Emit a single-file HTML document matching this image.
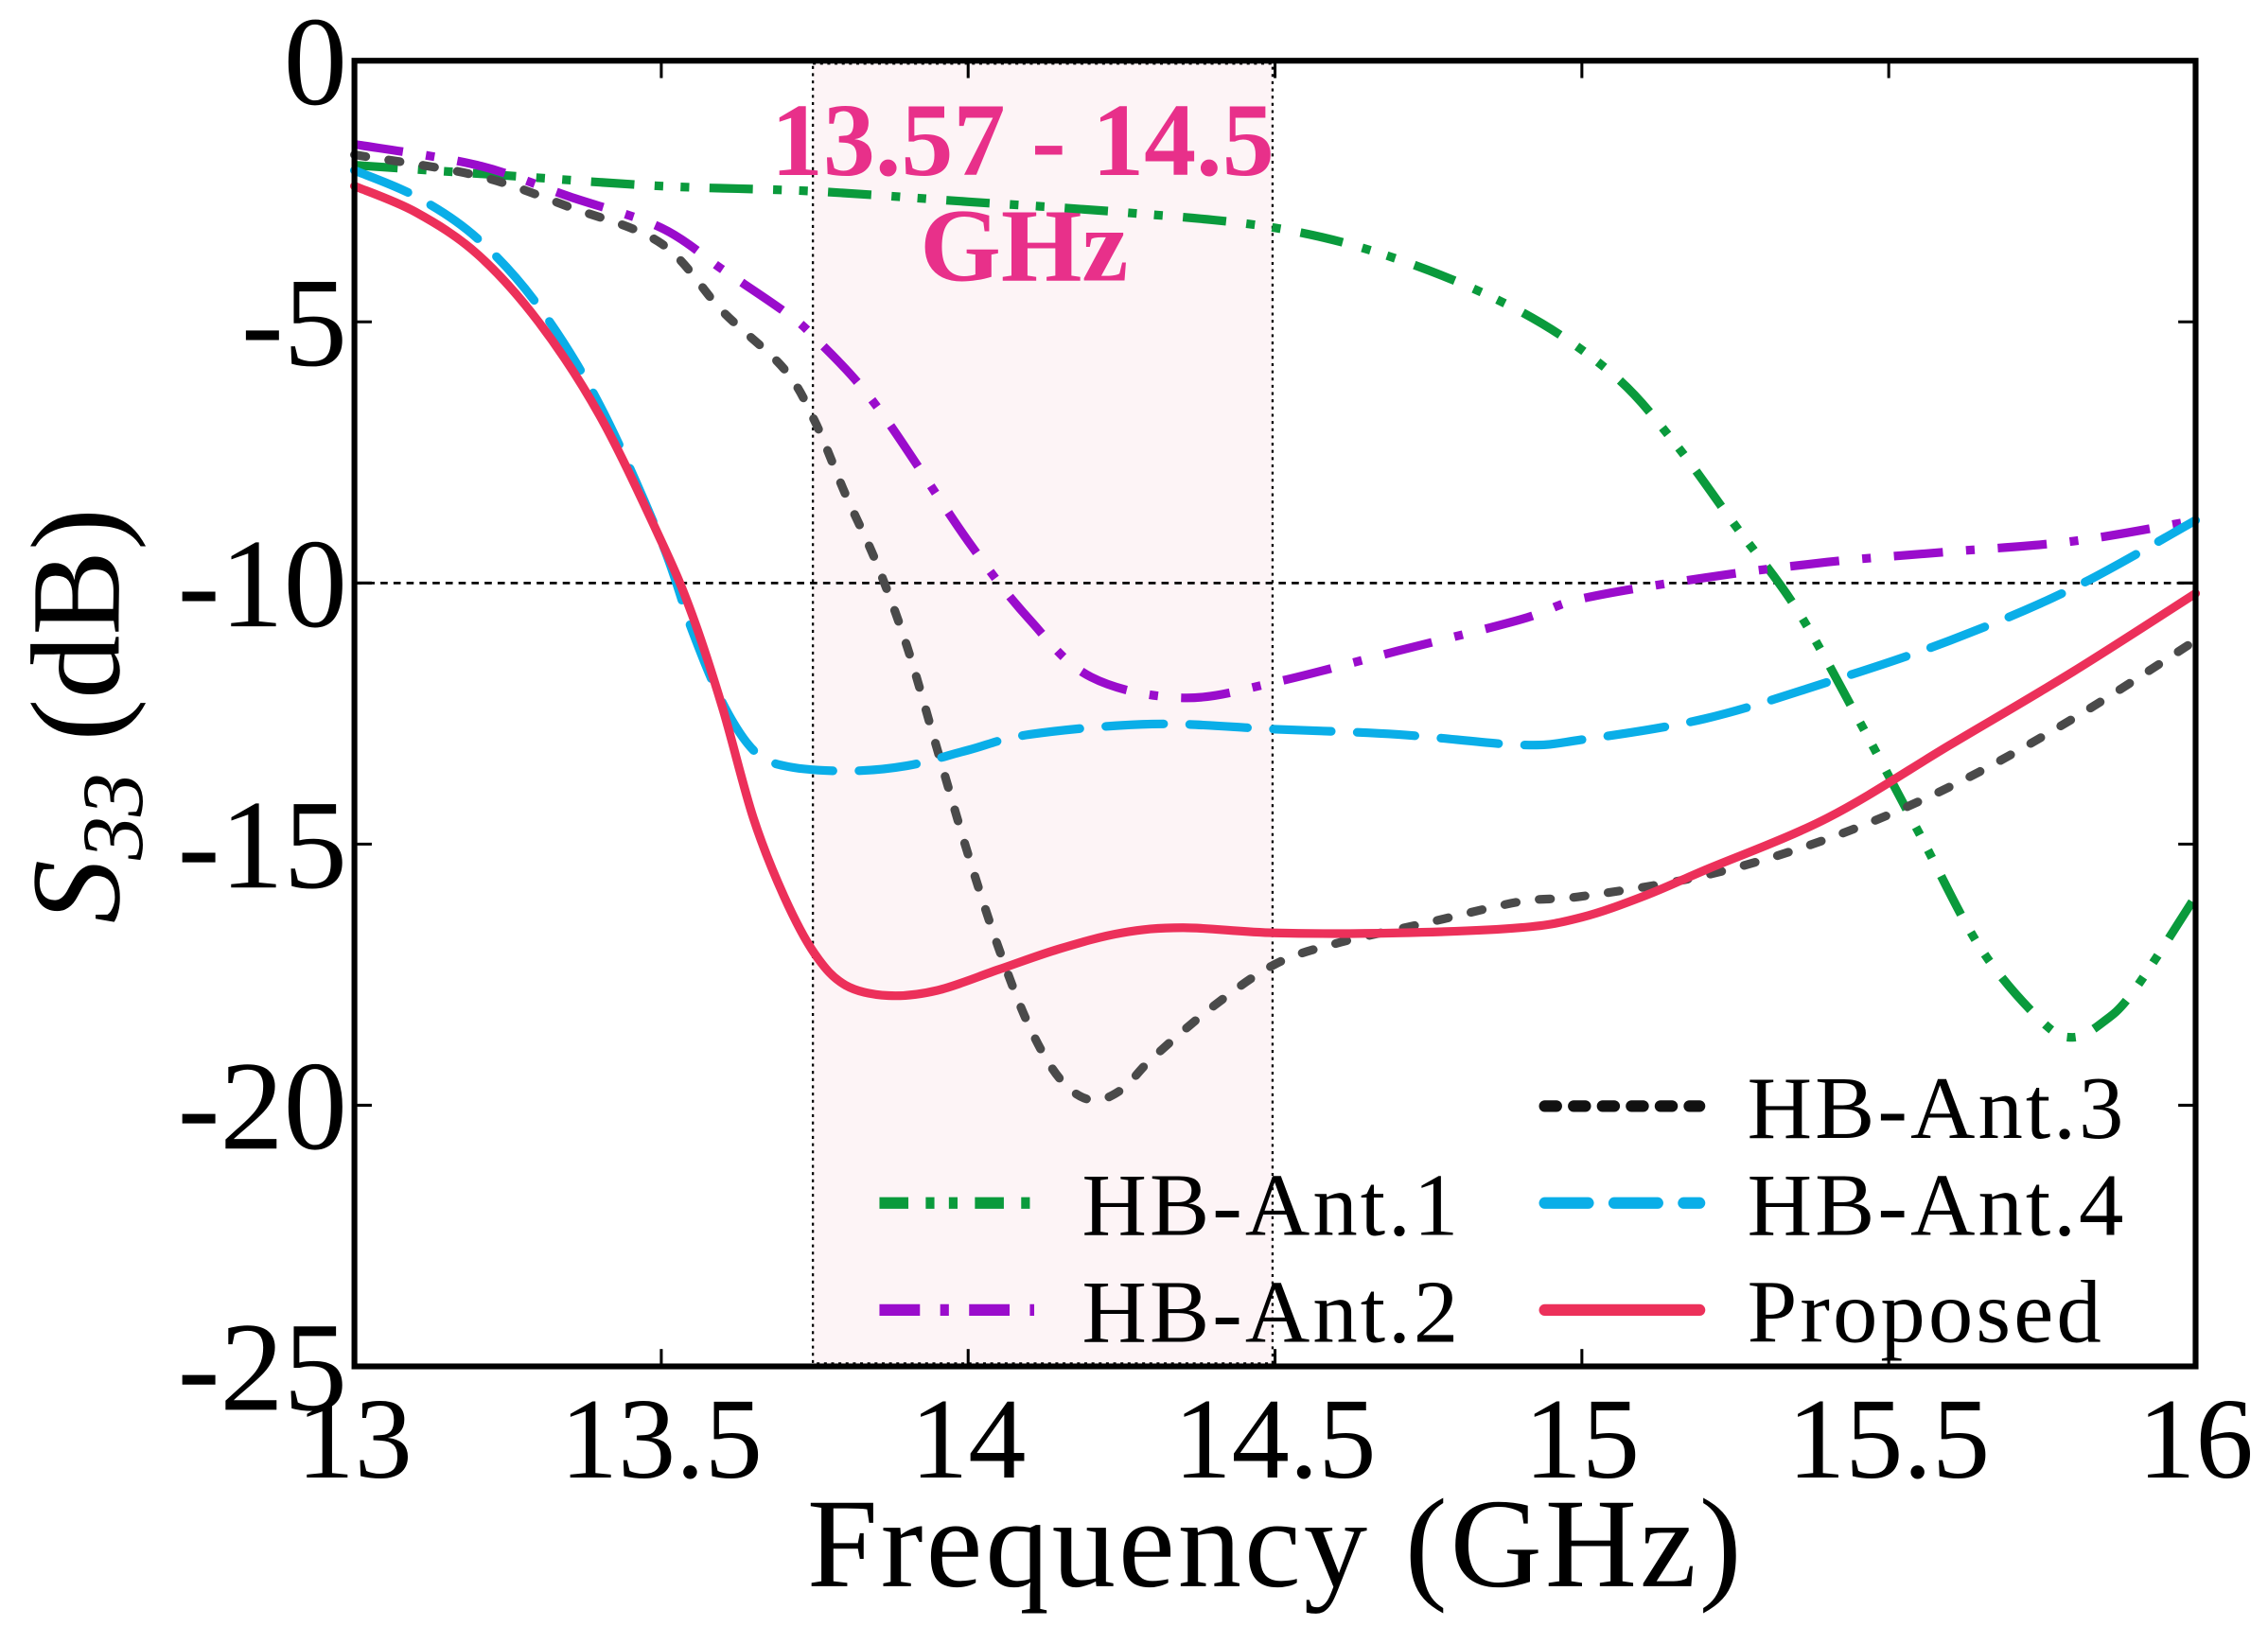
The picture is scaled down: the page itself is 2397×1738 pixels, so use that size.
<!DOCTYPE html>
<html><head><meta charset="utf-8"><style>
html,body{margin:0;padding:0;background:#fff;}
svg{display:block;}
text{font-family:"Liberation Serif",serif;}
</style></head><body>
<svg id="chart" width="2397" height="1738" viewBox="0 0 1568 1137" xmlns="http://www.w3.org/2000/svg">
<rect width="1568" height="1137" fill="#fff"/>
<g id="band"></g>
<g id="grid"></g>
<g id="series"></g>
<g id="axes"></g>
<g id="legend"></g>
</svg>
<script>
const xTicks=[13,13.5,14,14.5,15,15.5,16];
const xTickLabels=["13","13.5","14","14.5","15","15.5","16"];
const yTicks=[0,-5,-10,-15,-20,-25];
const yTickLabels=["0","-5","-10","-15","-20","-25"];
const bandRange=[13.747,14.496];
const ant1F=[13.0,13.25,13.5,13.75,14.0,14.25,14.5,14.7,14.9,15.05,15.15,15.25,15.35,15.45,15.55,15.65,15.75,15.8,15.85,15.9,16.0];
const ant1V=[-2.0,-2.2,-2.4,-2.5,-2.7,-2.9,-3.2,-3.8,-4.8,-6.0,-7.3,-8.9,-10.5,-12.6,-14.8,-17.0,-18.4,-18.7,-18.4,-17.8,-16.0];
const ant2F=[13.0,13.2,13.35,13.5,13.6,13.7,13.75,13.85,14.0,14.1,14.2,14.35,14.5,14.7,14.9,15.0,15.2,15.4,15.6,15.8,16.0];
const ant2V=[-1.6,-2.0,-2.6,-3.2,-4.0,-4.8,-5.3,-6.6,-9.2,-10.7,-11.8,-12.2,-11.9,-11.3,-10.7,-10.3,-9.9,-9.6,-9.4,-9.2,-8.8];
const ant3F=[13.0,13.2,13.35,13.5,13.6,13.7,13.75,13.8,13.85,13.9,13.95,14.0,14.05,14.1,14.15,14.2,14.25,14.3,14.4,14.5,14.6,14.75,14.9,15.0,15.2,15.4,15.6,15.8,16.0];
const ant3V=[-1.8,-2.2,-2.8,-3.5,-4.8,-5.9,-6.9,-8.3,-9.6,-11.2,-13.2,-15.2,-17.0,-18.5,-19.5,-19.9,-19.7,-19.1,-18.1,-17.3,-16.9,-16.5,-16.1,-16.0,-15.6,-14.9,-13.9,-12.6,-11.1];
const ant4F=[13.0,13.1,13.2,13.3,13.4,13.5,13.55,13.6,13.65,13.7,13.8,13.9,14.0,14.1,14.3,14.5,14.7,14.9,15.0,15.2,15.4,15.6,15.8,16.0];
const ant4V=[-2.1,-2.6,-3.4,-4.7,-6.6,-9.2,-10.9,-12.3,-13.2,-13.5,-13.6,-13.5,-13.2,-12.9,-12.7,-12.8,-12.9,-13.1,-13.0,-12.6,-11.9,-11.1,-10.1,-8.8];
const propF=[13.0,13.1,13.2,13.3,13.4,13.5,13.55,13.6,13.65,13.7,13.75,13.8,13.87,13.95,14.05,14.15,14.25,14.35,14.5,14.7,14.9,15.0,15.1,15.2,15.4,15.6,15.8,16.0];
const propV=[-2.4,-2.9,-3.7,-5.0,-6.8,-9.2,-10.6,-12.4,-14.5,-16.0,-17.1,-17.7,-17.9,-17.8,-17.4,-17.0,-16.7,-16.6,-16.7,-16.7,-16.6,-16.4,-16.0,-15.5,-14.5,-13.1,-11.7,-10.2];

const L=245,R=1518,T=42,B=945;
const X=f=>L+(f-13)/3*(R-L);
const Y=v=>T+(0-v)/25*(B-T);
const NS="http://www.w3.org/2000/svg";
function mk(tag,attrs,parent){const e=document.createElementNS(NS,tag);for(const k in attrs)e.setAttribute(k,attrs[k]);parent.appendChild(e);return e;}
function smooth(fs,vs){const p=fs.map((f,i)=>[X(f),Y(vs[i])]);let d=`M${p[0][0]},${p[0][1]}`;
 for(let i=0;i<p.length-1;i++){const p0=p[Math.max(0,i-1)],p1=p[i],p2=p[i+1],p3=p[Math.min(p.length-1,i+2)];
 const c1=[p1[0]+(p2[0]-p0[0])/6,p1[1]+(p2[1]-p0[1])/6],c2=[p2[0]-(p3[0]-p1[0])/6,p2[1]-(p3[1]-p1[1])/6];
 d+=` C${c1[0]},${c1[1]} ${c2[0]},${c2[1]} ${p2[0]},${p2[1]}`;}return d;}

const band=document.getElementById('band');
const br=mk('rect',{x:X(bandRange[0]),y:T+2,width:X(bandRange[1])-X(bandRange[0]),height:B-T-4,fill:'#fdf4f6',stroke:'#000','stroke-width':1.5,'stroke-dasharray':'2,3'},band);


const t1=mk('text',{x:707,y:121,'text-anchor':'middle','font-size':72,'font-weight':'bold',fill:'#e8308a'},band);t1.textContent='13.57 - 14.5';


const t2=mk('text',{x:708,y:194,'text-anchor':'middle','font-size':72,'font-weight':'bold',fill:'#e8308a'},band);t2.textContent='GHz';



const grid=document.getElementById('grid');
const gl=mk('line',{x1:L,x2:R,y1:Y(-10),y2:Y(-10),stroke:'#000','stroke-width':1.8,'stroke-dasharray':'5,4'},grid);



const sg=document.getElementById('series');
const series=[
 {n:'hb-ant1-line',f:ant1F,v:ant1V,c:'#0a9a3c',da:'30,14,6,12,6,14',lc:'butt'},
 {n:'hb-ant2-line',f:ant2F,v:ant2V,c:'#9a0ccc',da:'34,16,6,16',lc:'butt'},
 {n:'hb-ant3-line',f:ant3F,v:ant3V,c:'#4a4a4a',da:'8,16',lc:'round'},
 {n:'hb-ant4-line',f:ant4F,v:ant4V,c:'#0aaee8',da:'40,18',lc:'round'},
 {n:'proposed-line',f:propF,v:propV,c:'#ec305a',da:'none',lc:'round'}];
series.forEach(s=>{const p=mk('path',{d:smooth(s.f,s.v),fill:'none',stroke:s.c,'stroke-width':6,'stroke-dasharray':s.da,'stroke-linecap':s.lc},sg);
 
 });

const ax=document.getElementById('axes');
const fr=mk('rect',{x:L,y:T,width:R-L,height:B-T,fill:'none',stroke:'#000','stroke-width':4},ax);


xTicks.forEach((t,i)=>{const x=X(t);
 mk('line',{x1:x,x2:x,y1:B,y2:B-12,stroke:'#000','stroke-width':2},ax);
 mk('line',{x1:x,x2:x,y1:T,y2:T+12,stroke:'#000','stroke-width':2},ax);
 const tx=mk('text',{x:x,y:1022,'text-anchor':'middle','font-size':80},ax);tx.textContent=xTickLabels[i];
 
 });
yTicks.forEach((t,i)=>{const y=Y(t);
 mk('line',{x1:L,x2:L+12,y1:y,y2:y,stroke:'#000','stroke-width':2},ax);
 mk('line',{x1:R,x2:R-12,y1:y,y2:y,stroke:'#000','stroke-width':2},ax);
 const ty=mk('text',{x:240,y:y+30,'text-anchor':'end','font-size':88},ax);ty.textContent=yTickLabels[i];
 
 });
const xt=mk('text',{x:882,y:1097,'text-anchor':'middle','font-size':88,'letter-spacing':2},ax);xt.textContent='Frequency (GHz)';


const yt=mk('text',{transform:'translate(82,495) rotate(-90)','text-anchor':'middle','font-size':88},ax);
yt.innerHTML='<tspan font-style="italic">S</tspan><tspan font-size="60" font-style="italic" dy="16">33</tspan><tspan dy="-16"> (dB)</tspan>';



const lg=document.getElementById('legend');
const items=[
 {n:'legend-hb-ant1',t:'HB-Ant.1',x:605,y:832,c:'#0a9a3c',da:'20,12,6,10,6,12',lc:'butt'},
 {n:'legend-hb-ant2',t:'HB-Ant.2',x:605,y:906,c:'#9a0ccc',da:'28,14,6,14',lc:'butt'},
 {n:'legend-hb-ant3',t:'HB-Ant.3',x:1065,y:765,c:'#111',da:'8,12',lc:'round'},
 {n:'legend-hb-ant4',t:'HB-Ant.4',x:1065,y:832,c:'#0aaee8',da:'30,18',lc:'round'},
 {n:'legend-proposed',t:'Proposed',x:1065,y:906,c:'#ec305a',da:'none',lc:'round'}];
items.forEach(it=>{const g=mk('g',{},lg);
 
 
 mk('line',{x1:it.x+3,x2:it.x+110,y1:it.y,y2:it.y,stroke:it.c,'stroke-width':8,'stroke-dasharray':it.da,'stroke-linecap':it.lc},g);
 const tt=mk('text',{x:it.x+143,y:it.y+22,'font-size':62,'letter-spacing':2},g);tt.textContent=it.t;});
</script>
</body></html>
